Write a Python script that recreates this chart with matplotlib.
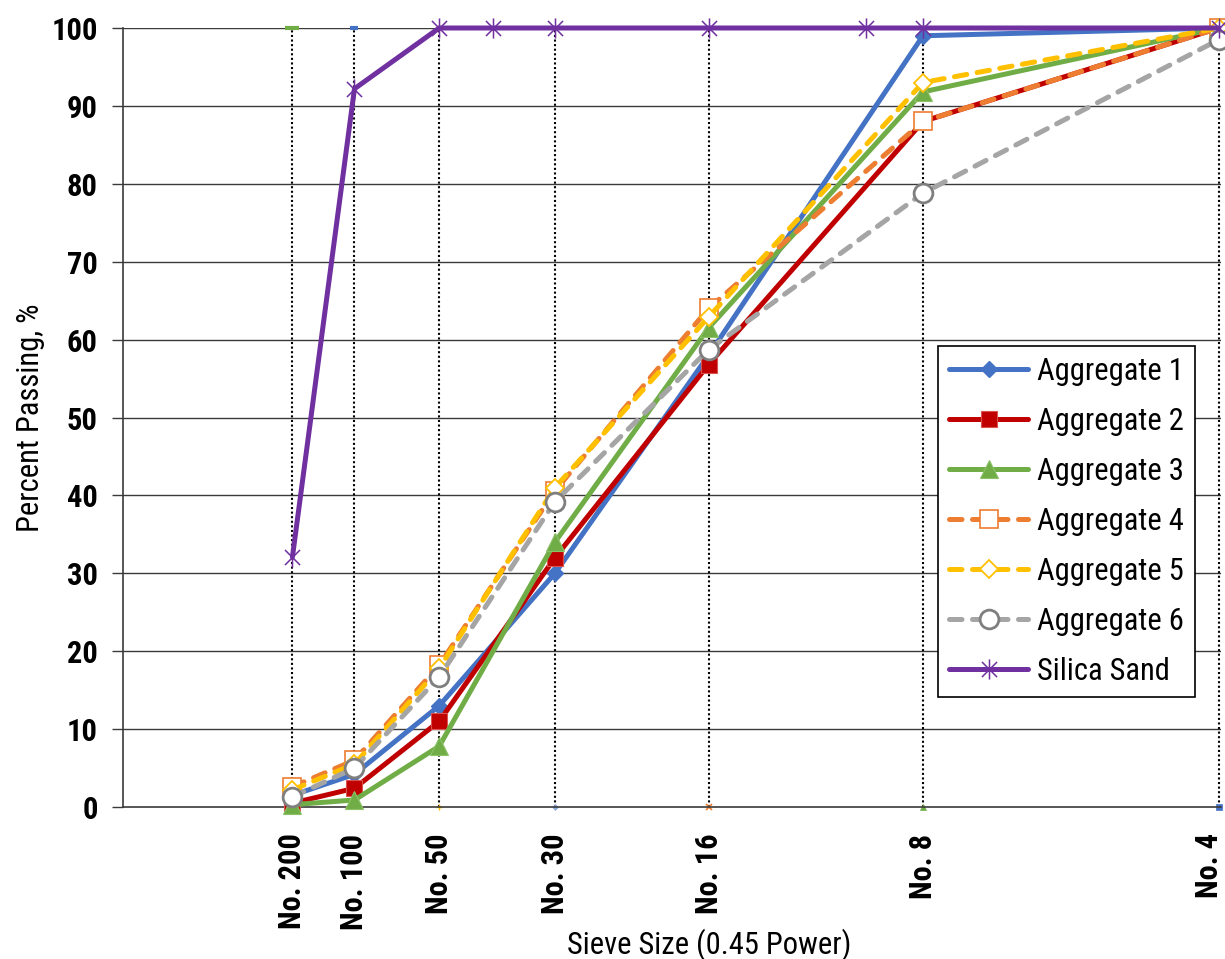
import matplotlib
matplotlib.use("Agg")
import matplotlib.pyplot as plt
from matplotlib import font_manager
from matplotlib.path import Path
from matplotlib.transforms import ScaledTranslation
import numpy as np

# ---- data -------------------------------------------------------------
sieve_labels = ["No. 200", "No. 100", "No. 50", "No. 30", "No. 16", "No. 8", "No. 4"]
sieve_mm = [0.075, 0.15, 0.3, 0.6, 1.18, 2.36, 4.75]

agg1 = [1.5, 4.2, 13.0, 30.0, 58.0, 99.0, 100.0]
agg2 = [0.5, 2.4, 11.0, 32.0, 56.8, 88.0, 100.0]
agg3 = [0.3, 0.9, 7.8, 34.0, 61.5, 91.8, 100.0]
agg4 = [2.6, 6.0, 18.2, 40.6, 64.0, 88.0, 100.0]
agg5 = [2.2, 5.5, 17.8, 41.0, 62.9, 93.0, 100.0]
agg6 = [1.3, 5.0, 16.7, 39.2, 58.7, 78.8, 98.5]

sand_mm = [0.075, 0.15, 0.3, 0.425, 0.6, 1.18, 2.0, 2.36, 4.75]
sand = [32.1, 92.2, 100.0, 100.0, 100.0, 100.0, 100.0, 100.0, 100.0]

POWER = 0.45

# ---- fonts: prefer a narrow / condensed sans ------------------------------
entries = font_manager.fontManager.ttflist
family, stretch = "Liberation Sans", "normal"
prefs = ["Liberation Sans Narrow", "Arial Narrow", "Roboto Condensed",
         "Open Sans Condensed", "Noto Sans Condensed", "Noto Sans",
         "DejaVu Sans Condensed", "DejaVu Sans", "Open Sans", "Roboto"]
found = False
for p in prefs:
    for e in entries:
        cond = ("narrow" in e.name.lower() or "condensed" in e.name.lower()
                or str(e.stretch) in ("condensed", "semi-condensed"))
        if e.name == p and cond:
            family = e.name
            stretch = e.stretch if str(e.stretch) in ("condensed", "semi-condensed") else "normal"
            found = True
            break
    if found:
        break
plt.rcParams["font.family"] = [family, "DejaVu Sans"]
plt.rcParams["font.stretch"] = stretch

W, H = 1225, 959
fig = plt.figure(figsize=(W / 100, H / 100), dpi=100)
ax_l, ax_r, ax_t, ax_b = 123, 1221, 28, 807
ax = fig.add_axes([ax_l / W, 1 - ax_b / H, (ax_r - ax_l) / W, (ax_b - ax_t) / H])

xs = np.array(sieve_mm) ** POWER
xs_sand = np.array(sand_mm) ** POWER

ax.set_xlim(0, 2.02)
ax.set_ylim(0, 100)

# horizontal grid
for yv in range(10, 101, 10):
    ax.axhline(yv, color="#3a3a3a", lw=1.0, zorder=0.5)

# dotted drop lines at each standard sieve
for x in xs:
    ax.plot([x, x], [0, 100], color="black", lw=1.5, linestyle=(0, (1, 1.2)),
            zorder=1, clip_on=False)

# small end marks on the drop lines
end_marks = [
    (0, 100, "#70AD47", "_", 10, 3.0),
    (1, 100, "#4472C4", "_", 6, 3.0),
    (2, 0, "#FFC000", "+", 4, 1.0),
    (3, 0, "#8FAADC", "D", 3, 0.5),
    (4, 0, "#ED7D31", "x", 4, 1.2),
    (5, 0, "#70AD47", "^", 4, 0.5),
    (6, 0, "#4472C4", "s", 4.5, 0.5),
]
for i, yv, c, m, ms, mew in end_marks:
    ax.plot([xs[i]], [yv], marker=m, color=c, ms=ms, mew=mew, ls="none",
            zorder=1.5, clip_on=False)

LW = 3.6
dash = (2.5, 2.1)

star = Path([(0, -1), (0, 1), (-0.75, -0.75), (0.75, 0.75), (-0.75, 0.75), (0.75, -0.75)],
            [Path.MOVETO, Path.LINETO, Path.MOVETO, Path.LINETO, Path.MOVETO, Path.LINETO])

common = dict(clip_on=False, solid_capstyle="round", dash_capstyle="round")

ax.plot(xs, agg1, color="#4472C4", lw=LW, marker="D", ms=8, mfc="#4472C4",
        mec="#4472C4", label="Aggregate 1", zorder=3, **common)
ax.plot(xs, agg2, color="#C00000", lw=LW, marker="s", ms=12, mfc="#C00000",
        mec="#D9534F", mew=0.8, label="Aggregate 2", zorder=3.1, **common)
ax.plot(xs, agg3, color="#70AD47", lw=LW, marker="^", ms=13.5, mfc="#70AD47",
        mec="#8CC168", mew=0.8, label="Aggregate 3", zorder=3.2, **common)
ax.plot(xs, agg4, color="#ED7D31", lw=LW, ls=(0, dash), marker="s", ms=12.5,
        mfc="white", mec="#ED7D31", mew=1.2, label="Aggregate 4", zorder=3.3, **common)
ax.plot(xs, agg5, color="#FFC000", lw=LW, ls=(0, dash), marker="D", ms=9.5,
        mfc="white", mec="#FFC000", mew=1.3, label="Aggregate 5", zorder=3.4, **common)
ax.plot(xs, agg6, color="#A5A5A5", lw=LW, ls=(0, dash), marker="o", ms=13.5,
        mfc="white", mec="#7F7F7F", mew=2.0, label="Aggregate 6", zorder=3.5, **common)
ax.plot(xs_sand, sand, color="#7030A0", lw=LW, marker=star, ms=14.5, mfc="none",
        mec="#7030A0", mew=1.1, label="Silica Sand", zorder=3.6, **common)

# axes styling
for side in ["top", "right"]:
    ax.spines[side].set_visible(False)
for side in ["left", "bottom"]:
    ax.spines[side].set_color("#3a3a3a")
    ax.spines[side].set_linewidth(1.2)

ax.set_yticks(range(0, 101, 10))
ax.set_yticklabels([str(v) for v in range(0, 101, 10)], fontsize=22, fontweight="bold")
ax.tick_params(axis="y", length=8, width=1.0, color="#3a3a3a", pad=10)

ax.set_xticks(xs)
ax.set_xticklabels(sieve_labels, rotation=90, fontsize=22, fontweight="bold")
ax.tick_params(axis="x", length=0, pad=19)
# keep the last sieve label inside the figure edge
last = ax.get_xticklabels()[-1]
last.set_transform(last.get_transform() + ScaledTranslation(-10 / 100, 0, fig.dpi_scale_trans))

ax.set_ylabel("Percent Passing, %", fontsize=22)
ax.set_xlabel("Sieve Size (0.45 Power)", fontsize=22)
ax.yaxis.set_label_coords(-0.071, 0.5)
ax.xaxis.set_label_coords(0.534, -0.156)

leg = ax.legend(loc="upper right", bbox_to_anchor=(1195 / W, 1 - 346 / H),
                bbox_transform=fig.transFigure, fontsize=22, frameon=True,
                fancybox=False, edgecolor="black", framealpha=1,
                handlelength=2.6, handletextpad=0.3, labelspacing=0.69,
                borderpad=0.35, borderaxespad=0)
leg.get_frame().set_linewidth(1.2)
leg.set_zorder(10)

fig.savefig("out.png", dpi=100)
